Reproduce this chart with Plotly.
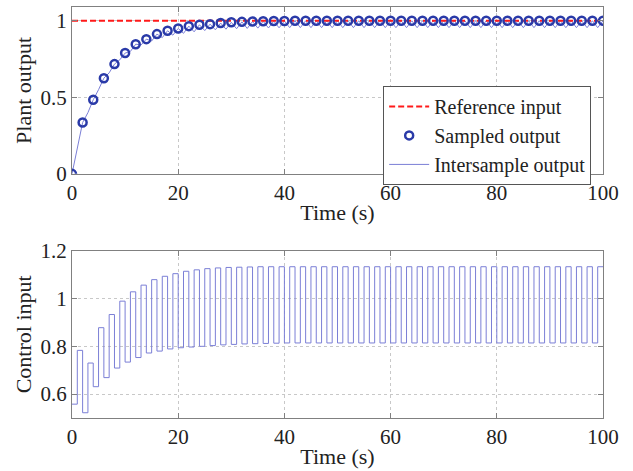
import plotly.graph_objects as go

# ---- data ----
# sampled plant output at t = 0, 2, 4, ..., 100
sample_t = list(range(0, 101, 2))
sampled_output = [0.0, 0.335, 0.484, 0.625, 0.717, 0.789, 0.847, 0.880, 0.913, 0.935,
                  0.950, 0.965, 0.974, 0.978, 0.985, 0.990, 0.993, 0.995, 0.997, 0.998,
                  0.999, 1.0, 1.0, 1.0, 1.0, 1.0, 1.0, 1.0, 1.0, 1.0,
                  1.0, 1.0, 1.0, 1.0, 1.0, 1.0, 1.0, 1.0, 1.0, 1.0,
                  1.0, 1.0, 1.0, 1.0, 1.0, 1.0, 1.0, 1.0, 1.0, 1.0, 1.0]
# intersample output between samples, at t = 1, 3, 5, ..., 99
mid_t = list(range(1, 100, 2))
intersample_mid = [0.17, 0.40, 0.55, 0.66, 0.745, 0.80, 0.842, 0.868, 0.89, 0.906,
                   0.918, 0.928, 0.936, 0.941, 0.945, 0.948, 0.950, 0.952, 0.953, 0.954,
                   0.955, 0.955, 0.955, 0.955, 0.955, 0.955, 0.955, 0.955, 0.955, 0.955,
                   0.955, 0.955, 0.955, 0.955, 0.955, 0.955, 0.955, 0.955, 0.955, 0.955,
                   0.955, 0.955, 0.955, 0.955, 0.955, 0.955, 0.955, 0.955, 0.955, 0.955]
# reference input
ref_t = [0, 100]
ref_value = [1.0, 1.0]
# control input: held value on [t, t+1), low at even t, high at odd t
ctrl_low = [0.558, 0.522, 0.631, 0.669, 0.709, 0.734, 0.753, 0.772, 0.780, 0.789,
            0.794, 0.797, 0.800, 0.803, 0.806, 0.808, 0.810, 0.811, 0.812, 0.813,
            0.814, 0.814, 0.814, 0.814, 0.814, 0.814, 0.814, 0.814, 0.814, 0.814,
            0.814, 0.814, 0.814, 0.814, 0.814, 0.814, 0.814, 0.814, 0.814, 0.814,
            0.814, 0.814, 0.814, 0.814, 0.814, 0.814, 0.814, 0.814, 0.814, 0.814]
ctrl_high = [0.783, 0.730, 0.878, 0.933, 0.989, 1.028, 1.056, 1.079, 1.093, 1.104,
             1.114, 1.120, 1.125, 1.128, 1.130, 1.131, 1.132, 1.133, 1.133, 1.133,
             1.133, 1.133, 1.133, 1.133, 1.133, 1.133, 1.133, 1.133, 1.133, 1.133,
             1.133, 1.133, 1.133, 1.133, 1.133, 1.133, 1.133, 1.133, 1.133, 1.133,
             1.133, 1.133, 1.133, 1.133, 1.133, 1.133, 1.133, 1.133, 1.133, 1.133]
x_ticks = [0, 20, 40, 60, 80, 100]
top_y_ticks = [0, 0.5, 1]
bottom_y_ticks = [0.6, 0.8, 1, 1.2]

# ---- build series ----
inter_t, inter_y = [], []
for i, t in enumerate(sample_t):
    inter_t.append(t)
    inter_y.append(sampled_output[i])
    if i < len(mid_t):
        inter_t.append(mid_t[i])
        inter_y.append(intersample_mid[i])

ctrl_t, ctrl_y = [], []
for i in range(len(ctrl_low)):
    ctrl_t += [2 * i, 2 * i + 1]
    ctrl_y += [ctrl_low[i], ctrl_high[i]]
ctrl_t.append(100)
ctrl_y.append(ctrl_high[-1])

SERIF = "Liberation Serif, Times New Roman, serif"
fig = go.Figure()
fig.add_trace(go.Scatter(x=inter_t, y=inter_y, mode="lines", name="Intersample output",
                         line=dict(color="#7b7fd6", width=1), legendrank=3,
                         xaxis="x", yaxis="y"))
fig.add_trace(go.Scatter(x=ref_t, y=ref_value, mode="lines", name="Reference input",
                         line=dict(color="#ff1a1a", width=2, dash="6px,3px"), legendrank=1,
                         xaxis="x", yaxis="y"))
fig.add_trace(go.Scatter(x=sample_t, y=sampled_output, mode="markers", name="Sampled output",
                         marker=dict(symbol="circle-open", size=8, color="#2a3aa8",
                                     line=dict(width=2.5, color="#2a3aa8")),
                         legendrank=2, xaxis="x", yaxis="y"))
fig.add_trace(go.Scatter(x=ctrl_t, y=ctrl_y, mode="lines", line_shape="hv",
                         line=dict(color="#7b7fd6", width=1), showlegend=False,
                         xaxis="x2", yaxis="y2"))

axis_common = dict(showline=True, linecolor="#808080", linewidth=1, mirror="ticks",
                   ticks="inside", ticklen=5, tickcolor="#808080", automargin=False,
                   showgrid=True, gridcolor="#c8c8c8", griddash="dot", gridwidth=1,
                   zeroline=False, tickfont=dict(family=SERIF, size=21, color="#222"),
                   title_font=dict(family=SERIF, size=22, color="#222"))

fig.update_layout(
    width=633, height=471,
    margin=dict(l=72, r=30, t=7, b=53, autoexpand=False),
    paper_bgcolor="white", plot_bgcolor="white",
    showlegend=True,
    legend=dict(x=0.586, y=0.808, xanchor="left", yanchor="top",
                bgcolor="white", bordercolor="#555", borderwidth=1,
                font=dict(family=SERIF, size=20, color="#222"),
                tracegroupgap=0, itemwidth=40),
    xaxis=dict(domain=[0, 1], range=[0, 100], tickvals=x_ticks, anchor="y",
               title=dict(text="Time (s)", standoff=0), **axis_common),
    yaxis=dict(domain=[0.594, 1], range=[0, 1.09], tickvals=top_y_ticks,
               ticktext=["0", "0.5", "1"], anchor="x",
               title=dict(text="Plant output", standoff=2), **axis_common),
    xaxis2=dict(domain=[0, 1], range=[0, 100], tickvals=x_ticks, anchor="y2",
                title=dict(text="Time (s)", standoff=0), **axis_common),
    yaxis2=dict(domain=[0, 0.407], range=[0.5, 1.2], tickvals=bottom_y_ticks,
                ticktext=["0.6", "0.8", "1", "1.2"], anchor="x2",
                title=dict(text="Control input", standoff=2), **axis_common),
)

fig.write_html("out.html", config={"displayModeBar": False},
               post_script="document.body.style.margin='0';document.body.style.overflow='hidden';")
